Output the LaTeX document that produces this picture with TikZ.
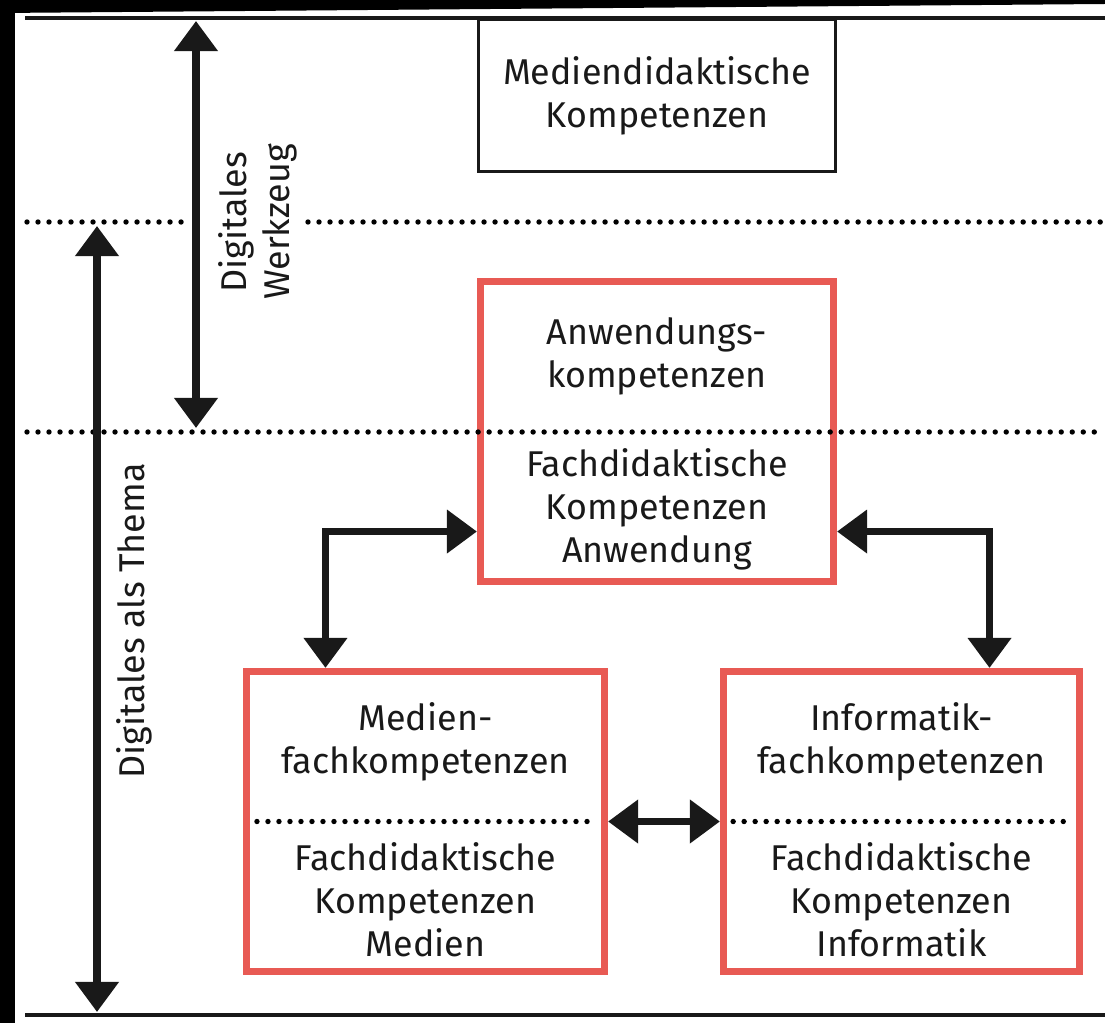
\documentclass[tikz,border=0pt]{standalone}
\usepackage{fontspec}
\setmainfont{Fira Sans}
\usetikzlibrary{arrows.meta, positioning}

\definecolor{boxred}{RGB}{232,90,84}

\begin{document}
\begin{tikzpicture}[
            x = 0.025cm, y = -0.025cm,
            > = {Triangle[length=0.75cm, width=1.05cm]},
            font = \fontsize{25.5}{30.6}\selectfont
        ]

        \tikzstyle{redbox}=[
            draw = boxred,
            line width = 0.175cm,
            fill = white,
            minimum width = 8.95cm,
            minimum height = 7.5cm,
            inner sep = 0pt
        ]
        \tikzstyle{blackbox}=[
            draw = black!90,
            line width = 0.075cm,
            fill = white,
            align = center,
            text = black!90,
            minimum width = 8.925cm,
            minimum height = 3.8cm,
            inner sep = 0pt
        ]
        \tikzstyle{txt}=[align = center, text = black!90, inner sep = 0pt]
        \tikzstyle{conn}=[<->, line width = 0.18cm, draw = black!90]
        \tikzstyle{rule}=[line width = 0.1cm, draw = black!90]
        \tikzstyle{dots}=[line width = 0.135cm, line cap = round, dash pattern = on 0pt off 0.275cm]

        \useasboundingbox (0,0) rectangle (1105,1023);

        % black scan edge
        \fill[black] (0,0) rectangle (15,1023);
        \fill[black] (0,0) -- (1105,0) -- (1105,4) -- (0,13) -- cycle;

        \coordinate (topL) at (25,18);
        \coordinate (topR) at (1105,18);
        \coordinate (botL) at (25,1015);
        \coordinate (botR) at (1105,1015);
        \draw[rule] (topL) -- (topR);
        \draw[rule] (botL) -- (botR);

		\node[blackbox] (medi) at (657,95.5) {Mediendidaktische\\Kompetenzen};

        \node[redbox, minimum width=8.825cm] (anw) at (657,431.5) {};
        \node[txt] (anwUp) [above=1.875cm of anw.center, anchor=center] {Anwendungs-\\kompetenzen};
        \node[txt] (anwLow) [below=1.95cm of anw.center, anchor=center] {Fachdidaktische\\Kompetenzen\\Anwendung};

        \node[redbox] (med) at (425.5,821.5) {};
        \node[txt] (medUp) [above=2cm of med.center, anchor=center] {Medien-\\fachkompetenzen};
        \node[txt] (medLow) [below=1.95cm of med.center, anchor=center] {Fachdidaktische\\Kompetenzen\\Medien};

        \node[redbox, minimum width=8.9cm] (inf) at (901.5,821.5) {};
        \node[txt] (infUp) [above=2cm of inf.center, anchor=center] {Informatik-\\fachkompetenzen};
        \node[txt] (infLow) [below=1.95cm of inf.center, anchor=center] {Fachdidaktische\\Kompetenzen\\Informatik};

        % dotted levels
        \coordinate (lvA) at (27,222);
        \coordinate (lvAgap) at (185,222);
        \coordinate (lvAback) at (308,222);
        \coordinate (lvAend) at (1105,222);
        \coordinate (lvB) at (27,432);
        \coordinate (lvBend) at (1105,432);
        \draw[dots] (lvA) -- (lvAgap);
        \draw[dots] (lvAback) -- (lvAend);
        \draw[dots] (lvB) -- (lvBend);
        \draw[dots] ([xshift=0.35cm]med.west) -- ([xshift=-0.33cm]med.east);
        \draw[dots] ([xshift=0.33cm]inf.west) -- ([xshift=-0.33cm]inf.east);

        % side arrows
        \coordinate (wzA) at (196,21);
        \coordinate (wzB) at (196,428);
        \coordinate (thA) at (97,226);
        \coordinate (thB) at (97,1012);
        \draw[conn] (wzA) -- (wzB);
        \draw[conn] (thA) -- (thB);
        \node[txt, rotate=90] (wzLabel) at (258,222) {Digitales\\Werkzeug};
        \node[txt, rotate=90] (thLabel) at (134,621) {Digitales als Thema};

        % links between the boxes
        \draw[conn] ([yshift=-2.5cm]anw.west) -| ([xshift=-2.5cm]med.north);
        \draw[conn] ([yshift=-2.5cm]anw.east) -| ([xshift=2.2cm]inf.north);
        \draw[conn] (med.east) -- (inf.west);

    \end{tikzpicture}
\end{document}
